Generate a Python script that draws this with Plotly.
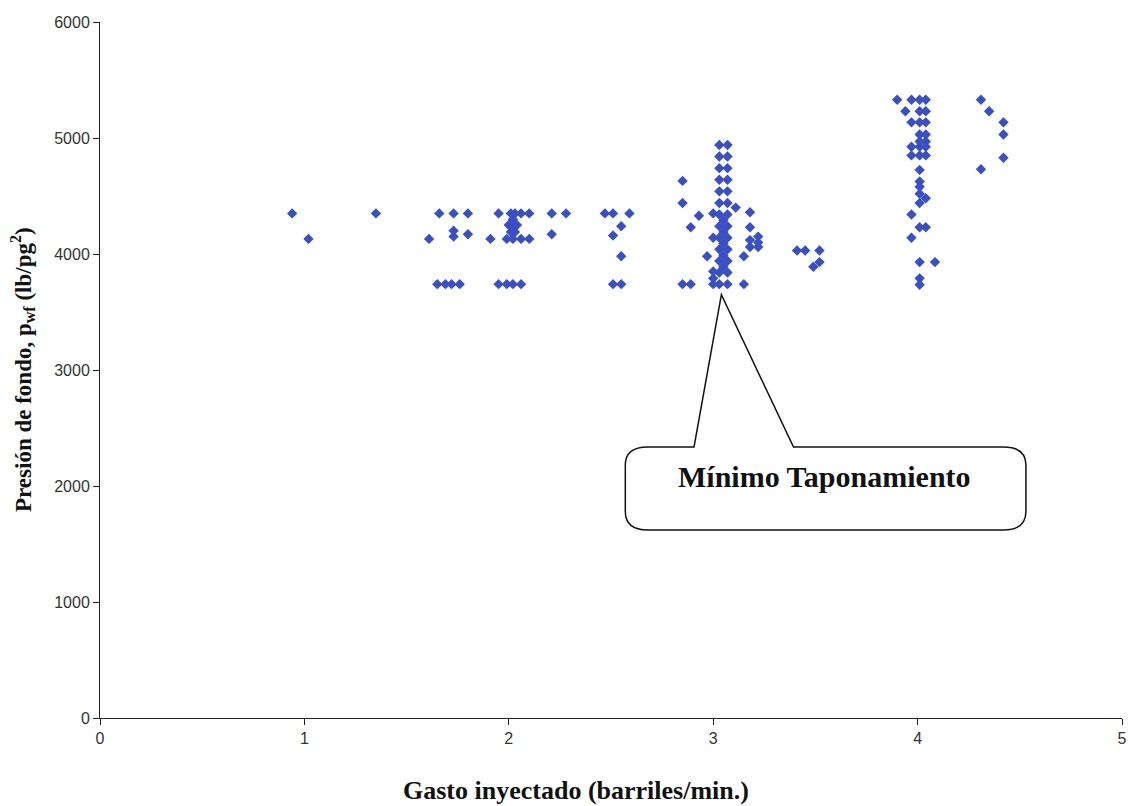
import plotly.graph_objects as go

# Injection rate (bbl/min) and bottom-hole pressure (psi) readings
gasto = [
    0.94, 1.02, 1.35,
    1.66, 1.73, 1.80, 1.61, 1.73, 1.73, 1.80, 1.65, 1.69, 1.72, 1.76,
    1.95, 2.01, 2.03, 2.06, 2.10, 2.21, 2.28,
    2.00, 2.02, 2.04, 2.01, 2.03, 2.02,
    1.91, 1.99, 2.02, 2.06, 2.10, 2.21,
    1.95, 1.99, 2.02, 2.06,
    2.47, 2.51, 2.59, 2.55, 2.51, 2.55, 2.51, 2.55,
    2.85, 2.85, 2.93, 2.89, 2.85, 2.89, 2.97, 3.15, 3.15, 3.11,
    3.18, 3.18, 3.18, 3.22, 3.18, 3.22, 3.22,
    3.03, 3.03, 3.03, 3.03, 3.03, 3.03, 3.03, 3.03, 3.03, 3.03, 3.03, 3.03, 3.03,
    3.07, 3.07, 3.07, 3.07, 3.07, 3.07, 3.07, 3.07, 3.07, 3.07, 3.07, 3.07, 3.07,
    3.05, 3.05, 3.05, 3.05, 3.05,
    3.00, 3.00, 3.00, 3.00, 3.00,
    3.41, 3.45, 3.52, 3.52, 3.49,
    3.90, 3.97, 4.01, 4.04, 3.94, 4.01, 4.04,
    3.97, 4.01, 4.04, 4.01, 4.04, 4.01, 4.04,
    3.97, 4.01, 4.04, 3.97, 4.01, 4.04,
    4.01, 4.01, 4.01, 4.01, 4.04, 4.01, 3.97,
    4.01, 4.04, 3.97, 4.01, 4.085, 4.01, 4.01,
    4.31, 4.35, 4.42, 4.42, 4.42, 4.31,
]
presion = [
    4350, 4130, 4350,
    4350, 4350, 4350, 4130, 4200, 4150, 4170, 3740, 3740, 3740, 3740,
    4350, 4350, 4350, 4350, 4350, 4350, 4350,
    4250, 4250, 4250, 4190, 4190, 4300,
    4130, 4130, 4130, 4130, 4130, 4170,
    3740, 3740, 3740, 3740,
    4350, 4350, 4350, 4240, 4160, 3980, 3740, 3740,
    4630, 4440, 4330, 4230, 3740, 3740, 3980, 3980, 3740, 4400,
    4360, 4230, 4120, 4150, 4060, 4060, 4100,
    4940, 4840, 4740, 4640, 4540, 4440, 4340, 4240, 4140, 4040, 3940, 3840, 3740,
    4940, 4840, 4740, 4640, 4540, 4440, 4340, 4240, 4140, 4040, 3940, 3840, 3740,
    4290, 4190, 4090, 3990, 3890,
    4350, 4140, 3850, 3790, 3740,
    4030, 4030, 4030, 3930, 3890,
    5330, 5330, 5330, 5330, 5230, 5230, 5230,
    5135, 5135, 5135, 5030, 5030, 4970, 4970,
    4925, 4925, 4925, 4850, 4850, 4850,
    4725, 4625, 4580, 4520, 4480, 4440, 4340,
    4230, 4230, 4140, 3930, 3930, 3790, 3735,
    5330, 5230, 5135, 5030, 4830, 4730,
]

x_ticks = [0, 1, 2, 3, 4, 5]
y_ticks = [0, 1000, 2000, 3000, 4000, 5000, 6000]

fig = go.Figure()
fig.add_trace(go.Scatter(
    x=gasto, y=presion, mode="markers",
    marker=dict(symbol="diamond", size=8, color="#3B4FC4",
                line=dict(width=0)),
    showlegend=False,
))

axis_common = dict(
    showgrid=False, zeroline=False, showline=True,
    linecolor="#222", linewidth=1,
    ticks="outside", ticklen=6, tickcolor="#222",
    tickfont=dict(family="Liberation Sans, Arial", size=16, color="#333"),
)
fig.update_xaxes(range=[0, 5], tickvals=x_ticks, **axis_common)
fig.update_yaxes(range=[0, 6000], tickvals=y_ticks, **axis_common)

# Callout bubble pointing at the minimum-plugging column
callout = ("M 2.906,2336 L 3.04,3650 L 3.393,2336 L 4.42,2336 "
           "Q 4.53,2336 4.53,2180 L 4.53,1780 Q 4.53,1621 4.42,1621 "
           "L 2.68,1621 Q 2.57,1621 2.57,1780 L 2.57,2180 "
           "Q 2.57,2336 2.68,2336 Z")
fig.add_shape(type="path", path=callout, xref="x", yref="y",
              fillcolor="white", line=dict(color="#111", width=1.5))
fig.add_annotation(x=3.544, y=2086, xref="x", yref="y",
                   text="<b>Mínimo Taponamiento</b>", showarrow=False,
                   font=dict(family="Liberation Serif, Times New Roman",
                             size=30, color="#111"))

plot_w = 1135 - 100 - 8
plot_h = 806 - 22 - 88

fig.add_annotation(x=(578 - 100) / plot_w, y=(718 - 790) / plot_h,
                   xref="paper", yref="paper",
                   xanchor="center", yanchor="middle",
                   text="<b>Gasto inyectado (barriles/min.)</b>",
                   showarrow=False,
                   font=dict(family="Liberation Serif, Times New Roman",
                             size=26, color="#111"))
fig.add_annotation(x=0, y=0.5, xref="paper", yref="paper",
                   xshift=-78, xanchor="center", yanchor="middle",
                   text="<b>Presión de fondo, p<sub>wf</sub> (lb/pg<sup>2</sup>)</b>",
                   textangle=-90, showarrow=False,
                   font=dict(family="Liberation Serif, Times New Roman",
                             size=23, color="#111"))

fig.update_layout(
    width=1135, height=806,
    margin=dict(l=100, r=8, t=22, b=88),
    paper_bgcolor="white", plot_bgcolor="white",
)

fig.write_html("out.html")
